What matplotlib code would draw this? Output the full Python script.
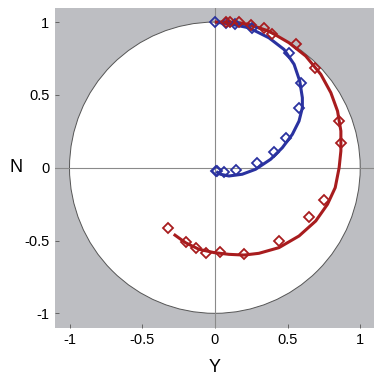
import numpy as np
import matplotlib.pyplot as plt
from matplotlib.patches import Circle

plt.rcParams['font.family'] = ['Liberation Sans', 'DejaVu Sans']

# measured points (Y, N)
blue_y = [0.0, 0.08, 0.136, 0.257, 0.51, 0.59, 0.579, 0.49, 0.41, 0.287, 0.147, 0.062, 0.016, 0.008]
blue_n = [1.0, 0.995, 0.989, 0.957, 0.79, 0.58, 0.412, 0.206, 0.11, 0.034, -0.018, -0.027, -0.023, -0.02]
red_y = [0.074, 0.103, 0.166, 0.25, 0.338, 0.395, 0.556, 0.69, 0.855, 0.871, 0.752, 0.648,
         0.441, 0.2, 0.034, -0.064, -0.133, -0.2, -0.322]
red_n = [1.0, 1.0, 1.0, 0.98, 0.961, 0.915, 0.851, 0.686, 0.32, 0.172, -0.222, -0.339,
         -0.503, -0.595, -0.577, -0.588, -0.549, -0.508, -0.412]

# fitted curves
blue_fit_y = [0.0, 0.097, 0.234, 0.372, 0.476, 0.545, 0.584, 0.602, 0.602, 0.579, 0.533,
              0.464, 0.384, 0.28, 0.188, 0.097, 0.039, 0.009]
blue_fit_n = [1.0, 0.988, 0.961, 0.892, 0.812, 0.71, 0.595, 0.48, 0.412, 0.32, 0.229,
              0.137, 0.058, -0.011, -0.045, -0.057, -0.045, -0.027]
red_fit_y = [0.0, 0.1, 0.17, 0.234, 0.372, 0.51, 0.625, 0.729, 0.798, 0.844, 0.867, 0.867,
             0.855, 0.828, 0.775, 0.694, 0.579, 0.441, 0.303, 0.2, 0.097, -0.007, -0.11,
             -0.202, -0.283]
red_fit_n = [1.0, 1.0, 0.995, 0.984, 0.938, 0.858, 0.767, 0.641, 0.515, 0.389, 0.252, 0.115,
             0.0, -0.137, -0.251, -0.366, -0.469, -0.549, -0.588, -0.6, -0.595, -0.583,
             -0.56, -0.515, -0.457]

ticks = [-1, -0.5, 0, 0.5, 1]
tick_labels = ['-1', '-0.5', '0', '0.5', '1']

blue = '#2a32a0'
red = '#a81c1e'

fig = plt.figure(figsize=(3.74, 3.76), dpi=100)
ax = fig.add_axes([0.147, 0.128, 0.855, 0.852])
ax.set_facecolor('#bdbec2')
for s in ax.spines.values():
    s.set_visible(False)

ax.add_patch(Circle((0, 0), 1, facecolor='white', edgecolor='#555555', lw=0.7, zorder=1))
ax.axhline(0, color='#8a8a8a', lw=0.8, zorder=2)
ax.axvline(0, color='#8a8a8a', lw=0.8, zorder=2)

ax.plot(blue_fit_y, blue_fit_n, color=blue, lw=2.2, zorder=3,
        solid_capstyle='butt', solid_joinstyle='round')
ax.plot(red_fit_y, red_fit_n, color=red, lw=2.2, zorder=3,
        solid_capstyle='butt', solid_joinstyle='round')
ax.plot(blue_y, blue_n, 'D', ms=5, mfc='none', mec=blue, mew=1.3, zorder=4)
ax.plot(red_y, red_n, 'D', ms=5, mfc='none', mec=red, mew=1.3, zorder=4)

ax.set_xlim(-1.1, 1.1)
ax.set_ylim(-1.1, 1.1)
ax.set_xticks(ticks, tick_labels)
ax.set_yticks(ticks, tick_labels)
ax.tick_params(direction='in', length=3, width=0.6, color='#555555', labelsize=10.5, pad=4)
ax.set_xlabel('Y', fontsize=13, labelpad=8.5)
ax.set_ylabel('N', fontsize=13, rotation=0, labelpad=6, va='center')

fig.savefig('out.png', dpi=100)
